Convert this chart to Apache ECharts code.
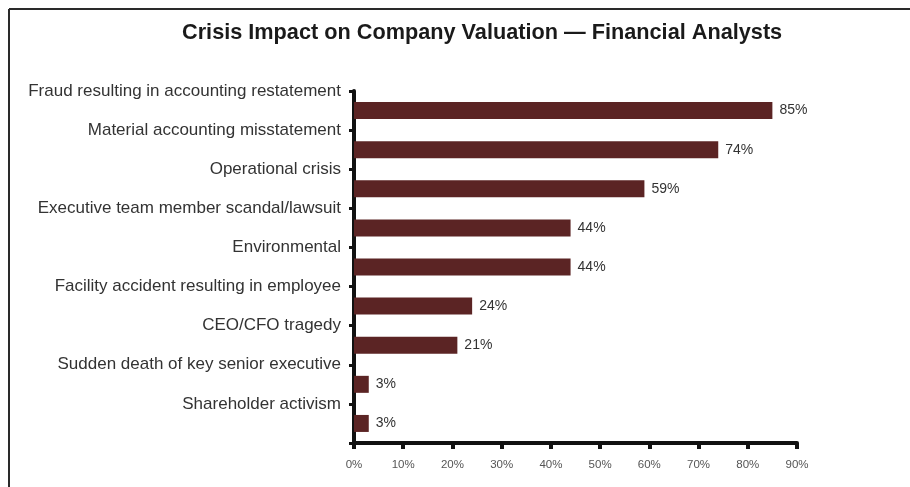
<!DOCTYPE html>
<html>
<head>
<meta charset="utf-8">
<script src="https://cdn.jsdelivr.net/npm/echarts@6/dist/echarts.min.js"></script>
<style>
  html, body { margin: 0; padding: 0; background: #ffffff; }
  #chart { width: 910px; height: 487px; }
</style>
</head>
<body>
<div id="chart"></div>
<script>
const categories = [
  'Fraud resulting in accounting restatement',
  'Material accounting misstatement',
  'Operational crisis',
  'Executive team member scandal/lawsuit',
  'Environmental',
  'Facility accident resulting in employee',
  'CEO/CFO tragedy',
  'Sudden death of key senior executive',
  'Shareholder activism'
];
const values = [85, 74, 59, 44, 44, 24, 21, 3, 3];
const xTickMax = 90;
const xTickStep = 10;
const titleText = 'Crisis Impact on Company Valuation \u2014 Financial Analysts';

const chart = echarts.init(document.getElementById('chart'));
const font = '"Liberation Sans", Arial, Helvetica, sans-serif';

chart.setOption({
  animation: false,
  backgroundColor: '#ffffff',
  title: {
    text: titleText,
    left: 177,
    top: 17,
    textStyle: { fontFamily: font, fontSize: 21.7, fontWeight: 'bold', color: '#1a1a1a' }
  },
  graphic: [
    { type: 'line', shape: { x1: 9, y1: 9, x2: 910, y2: 9 }, style: { stroke: '#2a2a2a', lineWidth: 2 } },
    { type: 'line', shape: { x1: 9, y1: 9, x2: 9, y2: 487 }, style: { stroke: '#2a2a2a', lineWidth: 2 } }
  ],
  grid: { left: 354, right: 113, top: 91, bottom: 44, containLabel: false },
  xAxis: {
    type: 'value',
    min: 0,
    max: xTickMax,
    interval: xTickStep,
    axisLine: { show: true, lineStyle: { color: '#111', width: 4 } },
    axisTick: { show: true, length: 6, lineStyle: { color: '#111', width: 4 } },
    splitLine: { show: false },
    axisLabel: {
      margin: 16,
      fontFamily: font,
      fontSize: 11.5,
      color: '#555',
      formatter: v => v + '%'
    }
  },
  yAxis: [
    {
      type: 'category',
      data: categories,
      inverse: true,
      boundaryGap: true,
      axisLine: { show: false },
      axisTick: { show: false },
      axisLabel: { show: false }
    },
    {
      type: 'category',
      position: 'left',
      data: categories.concat(['']),
      inverse: true,
      boundaryGap: false,
      axisLine: { show: true, lineStyle: { color: '#111', width: 4 } },
      axisTick: { show: true, length: 5, interval: 0, lineStyle: { color: '#111', width: 3 } },
      axisLabel: {
        interval: 0,
        hideOverlap: false,
        margin: 13,
        fontFamily: font,
        fontSize: 17,
        color: '#333'
      }
    }
  ],
  series: [{
    type: 'bar',
    yAxisIndex: 0,
    data: values,
    barWidth: 17,
    itemStyle: { color: '#5b2424' },
    label: {
      show: true,
      position: 'right',
      distance: 7,
      fontFamily: font,
      fontSize: 14,
      color: '#333',
      formatter: p => p.value + '%'
    }
  }]
});
</script>
</body>
</html>
